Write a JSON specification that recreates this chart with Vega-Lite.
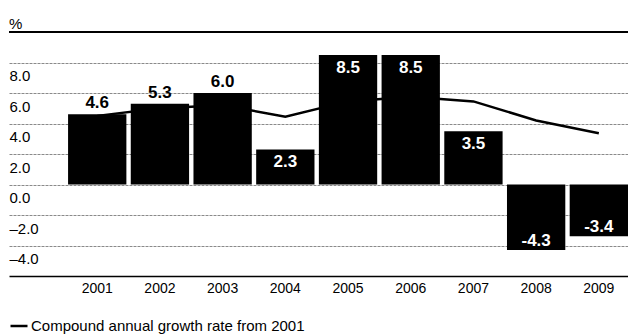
{
  "$schema": "https://vega.github.io/schema/vega-lite/v6.json",
  "width": 619,
  "height": 244,
  "autosize": {"type": "none"},
  "padding": {"left": 9, "right": 0, "top": 32, "bottom": 60},
  "background": "white",
  "title": {"text": "%", "anchor": "start", "frame": "group", "offset": 6, "dy": 7, "fontSize": 15, "fontWeight": "normal", "font": "Liberation Sans", "color": "black"},
  "data": {"values": [
    {"year": 2001, "value": 4.6, "cagr": 4.5},
    {"year": 2002, "value": 5.3, "cagr": 5.0},
    {"year": 2003, "value": 6.0, "cagr": 5.2},
    {"year": 2004, "value": 2.3, "cagr": 4.45},
    {"year": 2005, "value": 8.5, "cagr": 5.45},
    {"year": 2006, "value": 8.5, "cagr": 5.75},
    {"year": 2007, "value": 3.5, "cagr": 5.45},
    {"year": 2008, "value": -4.3, "cagr": 4.2},
    {"year": 2009, "value": -3.4, "cagr": 3.36}
  ]},
  "encoding": {
    "x": {"field": "year", "type": "ordinal", "scale": {"paddingInner": 0.07, "paddingOuter": 0.471, "align": 1},
      "axis": {"title": null, "labelAngle": 0, "domain": true, "domainColor": "black", "domainWidth": 1.5, "ticks": false, "labelPadding": 5, "labelFontSize": 14, "labelFont": "Liberation Sans", "labelColor": "black", "grid": false}}
  },
  "layer": [
    {
      "mark": {"type": "bar", "color": "black"},
      "encoding": {
        "y": {"field": "value", "type": "quantitative", "scale": {"domain": [-6, 10], "nice": false, "zero": false},
          "axis": {"title": null, "values": [-4, -2, 0, 2, 4, 6, 8], "domain": false, "ticks": false, "grid": true, "gridColor": "#8a8a8a", "gridDash": [3, 1], "gridWidth": 1, "labelAlign": "left", "labelPadding": 0, "labelOffset": 13, "labelBaseline": "middle", "labelFontSize": 15, "labelFont": "Liberation Sans", "labelColor": "black", "labelExpr": "replace(format(datum.value, '.1f'), '-', '–')"}}
      }
    },
    {
      "mark": {"type": "rule", "color": "black", "strokeWidth": 1.5},
      "encoding": {"y": {"datum": 10}, "x": null}
    },
    {
      "mark": {"type": "line", "strokeWidth": 2.5},
      "encoding": {
        "y": {"field": "cagr", "type": "quantitative"},
        "stroke": {"datum": "Compound annual growth rate from 2001", "type": "nominal", "scale": {"range": ["black"]},
          "legend": {"orient": "bottom", "title": null, "symbolType": "stroke", "symbolSize": 289, "symbolStrokeWidth": 2.5, "labelFontSize": 15, "labelFont": "Liberation Sans", "labelColor": "black", "labelLimit": 0, "labelOffset": 2, "offset": 21}}
      }
    },
    {
      "transform": [{"filter": "datum.year <= 2003"}],
      "mark": {"type": "text", "color": "black", "font": "Liberation Sans", "fontWeight": "bold", "fontSize": 17, "baseline": "middle", "dy": -11},
      "encoding": {"y": {"field": "value", "type": "quantitative"}, "text": {"field": "value", "type": "quantitative", "format": ".1f"}}
    },
    {
      "transform": [{"filter": "datum.year > 2003 && datum.value > 0"}],
      "mark": {"type": "text", "color": "white", "font": "Liberation Sans", "fontWeight": "bold", "fontSize": 17, "baseline": "middle", "dy": 13},
      "encoding": {"y": {"field": "value", "type": "quantitative"}, "text": {"field": "value", "type": "quantitative", "format": ".1f"}}
    },
    {
      "transform": [{"filter": "datum.value < 0"}],
      "mark": {"type": "text", "color": "white", "font": "Liberation Sans", "fontWeight": "bold", "fontSize": 17, "baseline": "middle", "dy": -9},
      "encoding": {"y": {"field": "value", "type": "quantitative"}, "text": {"field": "value", "type": "quantitative", "format": ".1f"}}
    }
  ],
  "config": {
    "view": {"stroke": null},
    "font": "Liberation Sans",
    "locale": {"number": {"decimal": ".", "thousands": ",", "grouping": [3], "currency": ["$", ""], "minus": "-"}}
  }
}
